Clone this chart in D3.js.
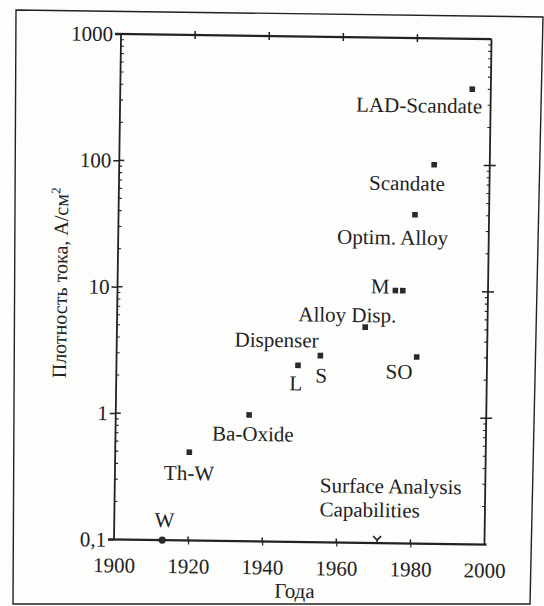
<!DOCTYPE html>
<html>
<head>
<meta charset="utf-8">
<script src="https://cdn.jsdelivr.net/npm/d3@7"></script>
<style>
  html, body { margin: 0; padding: 0; background: #fdfdfb; }
  svg { display: block; }
  text { font-family: "Liberation Serif", "Times New Roman", serif; fill: #222; }
</style>
</head>
<body>
<svg id="chart" width="544" height="606"></svg>
<script>
// Cathode types and their emission current density over the years
const cathodes = ["W", "Th-W", "Ba-Oxide", "L", "S", "Alloy Disp.", "M", "M", "SO", "Optim. Alloy", "Scandate", "LAD-Scandate"];
const years    = [1913, 1920, 1936, 1949, 1955, 1967, 1975, 1977, 1981, 1980, 1985, 1995];
const density  = [0.1, 0.5, 1.0, 2.5, 3.0, 5.1, 10, 10, 3.0, 40, 100, 400];
const showLabel = [true, true, true, true, true, true, true, false, true, true, true, true];

// Year surface analysis techniques became available
const surfaceAnalysisYear = 1971;

// Axis ticks
const yTickValues = [0.1, 1, 10, 100, 1000];
const yTickLabels = ["0,1", "1", "10", "100", "1000"];
const xTickValues = [1900, 1920, 1940, 1960, 1980, 2000];

// Label placement relative to each marker (pixels)
const labelPlacement = {
  "W":            { dx: 2,   dy: -13, anchor: "middle" },
  "Th-W":         { dx: 0,   dy: 28,  anchor: "middle" },
  "Ba-Oxide":     { dx: 4,   dy: 26,  anchor: "middle" },
  "L":            { dx: -2,  dy: 25,  anchor: "middle" },
  "S":            { dx: 1,   dy: 27,  anchor: "middle" },
  "Alloy Disp.":  { dx: -18, dy: -5,  anchor: "middle" },
  "M":            { dx: -6,  dy: 3,   anchor: "end" },
  "SO":           { dx: -4,  dy: 22,  anchor: "end" },
  "Optim. Alloy": { dx: -22, dy: 30,  anchor: "middle" },
  "Scandate":     { dx: 11,  dy: 26,  anchor: "end" },
  "LAD-Scandate": { dx: 10,  dy: 24,  anchor: "end" }
};

const svg = d3.select("#chart");
const ink = "#222";
const fontSize = 21;

// Outer border of the figure
svg.append("path")
  .attr("d", "M16,10 L543,17 L530,604 L13,604 Z")
  .attr("fill", "none")
  .attr("stroke", ink)
  .attr("stroke-width", 1.4);

const g = svg.append("g").attr("transform", "rotate(0.8,300,290)");

const plotLeft = 117.5, plotRight = 488, plotTop = 36.5, plotBottom = 542;
const x = d3.scaleLinear().domain([1900, 2000]).range([plotLeft, plotRight]);
const y = d3.scaleLog().domain([0.1, 1000]).range([plotBottom, plotTop]);

// Left axis with labels (outer half of the major ticks)
const yAxis = d3.axisLeft(y)
  .tickValues(yTickValues)
  .tickFormat((d, i) => yTickLabels[i])
  .tickSize(6)
  .tickPadding(2);
const ya = g.append("g").attr("transform", `translate(${plotLeft},0)`).call(yAxis);
ya.select(".domain").remove();
ya.selectAll("line").attr("stroke", ink).attr("stroke-width", 1.5);
ya.selectAll("text").attr("font-size", fontSize).style("font-family", '"Liberation Serif", serif').attr("fill", ink);

// Bottom axis labels
const xAxis = d3.axisBottom(x)
  .tickValues(xTickValues)
  .tickFormat(d3.format("d"))
  .tickSize(4)
  .tickPadding(14);
const xa = g.append("g").attr("transform", `translate(0,${plotBottom})`).call(xAxis);
xa.select(".domain").remove();
xa.selectAll("line").attr("stroke", ink).attr("stroke-width", 1.2)
  .filter(d => d === 1900 || d === 2000).remove();
xa.selectAll("text").attr("font-size", fontSize).style("font-family", '"Liberation Serif", serif').attr("fill", ink);

// Plot frame
g.append("line").attr("x1", plotLeft).attr("x2", plotLeft).attr("y1", plotTop).attr("y2", plotBottom)
  .attr("stroke", ink).attr("stroke-width", 1.8);
g.append("line").attr("x1", plotRight).attr("x2", plotRight).attr("y1", plotTop).attr("y2", plotBottom)
  .attr("stroke", ink).attr("stroke-width", 1.8);
g.append("line").attr("x1", plotLeft - 6).attr("x2", plotRight).attr("y1", plotTop).attr("y2", plotTop)
  .attr("stroke", ink).attr("stroke-width", 2.4);
g.append("line").attr("x1", plotLeft - 6).attr("x2", plotRight + 2).attr("y1", plotBottom).attr("y2", plotBottom)
  .attr("stroke", ink).attr("stroke-width", 2.4);

// Inner halves of major ticks and right-axis major ticks
const inner = g.append("g").attr("stroke", ink).attr("stroke-width", 1.5);
yTickValues.filter(v => v > 0.1 && v < 1000).forEach(v => {
  inner.append("line").attr("x1", plotLeft).attr("x2", plotLeft + 5).attr("y1", y(v)).attr("y2", y(v));
  inner.append("line").attr("x1", plotRight - 6).attr("x2", plotRight + 6).attr("y1", y(v)).attr("y2", y(v));
});

// Minor log ticks on both vertical axes
const minor = [];
[0.1, 1, 10, 100].forEach(d => { for (let k = 2; k <= 9; k++) minor.push(d * k); });
const mg = g.append("g").attr("stroke", ink).attr("stroke-width", 1.1);
minor.forEach(v => {
  mg.append("line").attr("x1", plotLeft).attr("x2", plotLeft + 3).attr("y1", y(v)).attr("y2", y(v));
  mg.append("line").attr("x1", plotRight - 3).attr("x2", plotRight).attr("y1", y(v)).attr("y2", y(v));
});

// Year ticks on the top edge and inner halves on the bottom edge
xTickValues.filter(v => v > 1900 && v < 2000).forEach(v => {
  inner.append("line").attr("x1", x(v)).attr("x2", x(v)).attr("y1", plotTop - 4).attr("y2", plotTop + 4);
  inner.append("line").attr("x1", x(v)).attr("x2", x(v)).attr("y1", plotBottom - 4).attr("y2", plotBottom);
});

// Axis titles
g.append("text")
  .attr("x", (plotLeft + plotRight) / 2 - 4)
  .attr("y", plotBottom + 56)
  .attr("text-anchor", "middle")
  .attr("font-size", fontSize)
  .text("Года");

const yTitle = g.append("text")
  .attr("transform", `translate(67,${(plotTop + plotBottom) / 2 - 3}) rotate(-90)`)
  .attr("text-anchor", "middle")
  .attr("font-size", 20);
yTitle.append("tspan").text("Плотность тока, А/см");
yTitle.append("tspan").attr("dy", -8).attr("font-size", 13).text("2");

// Data markers
const pts = cathodes.map((c, i) => ({ name: c, year: years[i], value: density[i], label: showLabel[i] }));

g.selectAll("rect.pt")
  .data(pts.filter(d => d.name !== "W"))
  .join("rect")
  .attr("class", "pt")
  .attr("x", d => x(d.year) - 2.8)
  .attr("y", d => y(d.value) - 2.8)
  .attr("width", 5.6)
  .attr("height", 5.6)
  .attr("fill", "#2a2a2a");

g.selectAll("circle.pt")
  .data(pts.filter(d => d.name === "W"))
  .join("circle")
  .attr("class", "pt")
  .attr("cx", d => x(d.year))
  .attr("cy", d => y(d.value))
  .attr("r", 3.6)
  .attr("fill", "#2a2a2a");

// Marker labels
g.selectAll("text.lbl")
  .data(pts.filter(d => d.label))
  .join("text")
  .attr("class", "lbl")
  .attr("x", d => x(d.year) + labelPlacement[d.name].dx)
  .attr("y", d => y(d.value) + labelPlacement[d.name].dy)
  .attr("text-anchor", d => labelPlacement[d.name].anchor)
  .attr("font-size", fontSize)
  .text(d => d.name);

// Group label over the L and S dispenser cathodes
const sPt = pts.find(d => d.name === "S");
g.append("text")
  .attr("x", x(sPt.year) - 2)
  .attr("y", y(sPt.value) - 8)
  .attr("text-anchor", "end")
  .attr("font-size", fontSize)
  .text("Dispenser");

// Surface analysis marker on the time axis
const sx = x(surfaceAnalysisYear), sy = y(0.1);
g.append("path")
  .attr("d", `M${sx - 4},${sy - 7} L${sx},${sy - 3} L${sx + 4},${sy - 7} M${sx},${sy - 3} L${sx},${sy}`)
  .attr("fill", "none")
  .attr("stroke", ink)
  .attr("stroke-width", 1.6);

g.append("text").attr("font-size", fontSize)
  .attr("x", sx - 58).attr("y", sy - 50).text("Surface Analysis");
g.append("text").attr("font-size", fontSize)
  .attr("x", sx - 58).attr("y", sy - 26).text("Capabilities");
</script>
</body>
</html>
